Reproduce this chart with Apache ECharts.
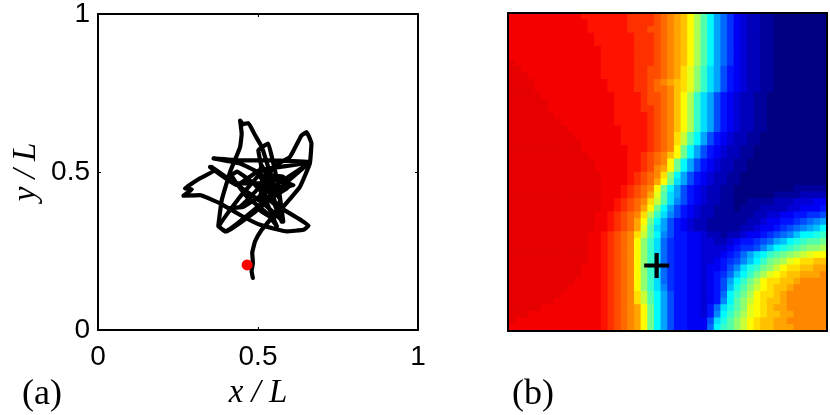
<!DOCTYPE html>
<html><head><meta charset="utf-8">
<style>html,body{margin:0;padding:0;background:#fff}#c{width:830px;height:415px}</style>
<script src="https://cdn.jsdelivr.net/npm/echarts@6/dist/echarts.min.js"></script>
</head><body><div id="c"></div>
<script>
var pathX = [.484,.480,.484,.482,.491,.510,.533,.553,.569,.538,.506,.512,.533,.559,.595,.548,.486,.402,.376,.387,.413,.444,.449,.444,.454,.470,.491,.512,.533,.548,.574,.559,.527,.496,.444,.361,.444,.548,.658,.611,.506,.434,.350,.366,.319,.272,.293,.267,.319,.381,.444,.506,.590,.642,.658,.637,.548,.486,.434,.418,.465,.527,.559,.506,.579,.527,.496,.444,.407,.454,.538,.611,.527,.506,.548,.600,.636,.652,.667,.662,.631,.579,.548,.506,.516,.537,.527,.506,.548,.516,.542,.512,.543,.533,.658,.537,.397,.379,.444,.512,.501,.532,.543,.564,.579,.516,.355,.433,.527,.543,.516,.537];
var pathY = [.165,.186,.212,.244,.281,.315,.343,.370,.412,.453,.501,.522,.474,.453,.451,.422,.370,.312,.328,.412,.501,.579,.621,.663,.651,.655,.616,.579,.511,.422,.343,.380,.453,.501,.527,.543,.537,.537,.532,.522,.506,.459,.516,.506,.480,.448,.445,.425,.427,.401,.364,.333,.312,.317,.330,.346,.401,.464,.501,.490,.422,.370,.328,.464,.485,.490,.443,.390,.385,.390,.443,.459,.480,.422,.516,.548,.616,.626,.590,.527,.453,.390,.354,.380,.453,.506,.464,.485,.464,.443,.433,.474,.490,.443,.527,.422,.312,.328,.422,.506,.569,.590,.548,.453,.343,.401,.516,.464,.464,.485,.459,.451];
var startPoint = [0.466, 0.206];
var panelLabels = ['(a)', '(b)'];
// heat levels 0..35 in base 36, one string per row from the top; an upper-case letter adds half a level
var heatRows = [
'vvvvvvvvvvvuuuuuuuttttsrqpomjgda8643221100000000',
'vvvvvvvvvvvvuuuuuuttttsrqpomjgda8643221100000000',
'vvvvvvvvvvvvuuuuuutttssrqpomjgda8643221100000000',
'vvvvvvvvvvvvvuuuuuutttsrqpomjgda8643221100000000',
'vvvvvvvvvvvvvuuuuuutttsrqpomjgda8643221100000000',
'vvvvvvvvvvvvvvuuuuutttsrqpomjgda8643221100000000',
'vvvvvvvvvvvvvvuuuuutttsrqpomjgda8643221100000000',
'Vvvvvvvvvvvvvvuuuuutttsrqpomjgda8643221100000000',
'VVvvvvvvvvvvvvuuuuuttssrqpnlifca7543221100000000',
'VVVvvvvvvvvvvvuuuuuttssrqpnlifca7543221100000000',
'VVVVvvvvvvvvvvvuuuuttsrqponlifca7543221100000000',
'VVVVvvvvvvvvvvvuuuuttsrrqonlifca7543221100000000',
'VVVVVvvvvvvvvvvvuuuutssrqomjfca75432211000000000',
'VVVVVVvvvvvvvvvvuuuutssrqomjfca75432211000000000',
'VVVVVVvvvvvvvvvvuuuuttsrqomjfca75432211000000000',
'VVVVVVVvvvvvvvvvuuuuutsrqomjfca75432211000000000',
'VVVVVVVVvvvvvvvvuuuuutsrqomjfca75432211000000000',
'VVVVVVVVVvvvvvvvvuuuutsrqomjfca75432211000000000',
'VVVVVVVVVVvvvvvvvuuuutsrqnkgda754322110000000000',
'VVVVVVVVVVVvvvvvvuuuutsrqnkgda754322110000000000',
'VVVVVVVVVVVvvvvvvvuuutsrqmhda7543221100000000000',
'VVVVVVVVVVVVvvvvvvuutsrqomhda7543221100000000000',
'VVVVVVVVVVVVVvvvvvuutsrqmhda75432211000000000000',
'VVVVVVVVVVVVVvvvvvuutsqpmhda75432211000000000000',
'VVVVVVVVVVVVVVvvvvutsrqnida754322110000000000000',
'VVVVVVVVVVVVVVvvvvutsrpmhca754322110000000000000',
'VVVVVVVVVVVVVVvvvutsrqmhda7543221100000000011111',
'VVVVVVVVVVVVVVvvvutsrplgca7543221100000011112222',
'VVVVVVVVVVVVVVvvutsrqnkgc97543221100111122233344',
'VVVVVVVVVVVVVVvvutsrpmhda75432211101112222334445',
'VVVVVVVVVVVVVvvutsrqnjfc975432211111122334455667',
'VVVVVVVVVVVVVvvutsrpmhda75432211111122344556789a',
'VVVVVVVVVVVVVvvutsrplgca754322111112234456789abd',
'VVVVVVVVVVVVvvutsrqnkgd97554432212234456789bddef',
'VVVVVVVVVVVVvvutsrqmifc86554433223455678abdefggh',
'VVVVVVVVVVVVvvutsrqmifc8655443333456679bdefghiij',
'VVVVVVVVVVVVvvutsrqmifc8655443334568acdfghijklmm',
'VVVVVVVVVVVVvvutsrqmifc8655443345679bdfhijlmnnoo',
'VVVVVVVVVVVvvvutsrqmifc865544344579cefhikmnnoopp',
'VVVVVVVVVVVvvvutsrqmifc86554434568bdfhjlmnoopppq',
'VVVVVVVVVVvvvvutsrqmifc8655443457adfhjmnnoopqqqq',
'VVVVVVVVVvvvvvutsrqmifc9655443457begikmnoopqqqqq',
'VVVVVVVVvvvvvvutsrqnkgda755443458dfhjmnnopqqqqqq',
'VVVVVVVvvvvvvvutsrqnkgda755443459dgikmnoopqqqqqq',
'VVVVVvvvvvvvvvutsrqpmhda75544358cegilmnoppqqqqqq',
'VVVvvvvvvvvvvvutsrqpmhda75544359dfhjlmnooppqqqqq',
'Vvvvvvvvvvvvvvutsrqpmhda7554447cegikmnooppqqqqqq',
'vvvvvvvvvvvvvvutsrqpmhda7554448dfgikmnoopppqqqqq'
];
var heatData = [], cols = [], rows = [];
for (var i = 0; i < 48; i++) { cols.push(i); rows.push(i); }
heatRows.forEach(function (r, j) {
  for (var i = 0; i < 48; i++) {
    var ch = r.charAt(Math.min(i, r.length - 1));
    var lv = parseInt(ch, 36) + (ch !== ch.toLowerCase() ? 0.5 : 0);
    heatData.push([i, j, lv]);
  }
});
var pathData = pathX.map(function (x, i) { return [x, pathY[i]]; });

var SANS = '"Liberation Sans"', SERIF = '"Liberation Serif"';
function valAxis(grid, pos, labelled, name) {
  return {
    type: 'value', gridIndex: grid, position: pos, min: 0, max: 1, interval: 0.5, z: 5,
    splitLine: { show: false },
    axisLine: { show: true, onZero: false, lineStyle: { color: '#000', width: 2 } },
    axisTick: { show: grid === 0, inside: true, length: 3, lineStyle: { color: '#000', width: 1 } },
    axisLabel: { show: labelled, color: '#000', fontFamily: SANS, fontSize: 28,
      margin: pos === 'bottom' ? 13 : 8,
      formatter: function (v) { return String(v); } },
    name: name || '', nameLocation: 'middle',
    nameTextStyle: { color: '#000', fontFamily: SERIF, fontStyle: 'italic', fontSize: 33 }
  };
}
function catAxis(grid, data, inverse) {
  return { type: 'category', gridIndex: grid, data: data, inverse: inverse, show: false };
}
var xA0 = valAxis(0, 'bottom', true, 'x / L'); xA0.nameGap = 47;
var yA0 = valAxis(0, 'left', true, 'y / L'); yA0.nameGap = 55; yA0.nameRotate = 90;
var heatBase = { type: 'heatmap', xAxisIndex: 2, yAxisIndex: 2, data: heatData, progressive: 0 };

var option = {
  animation: false,
  backgroundColor: '#fff',
  title: [
    { text: panelLabels[0], left: 17, top: 372, textStyle: { fontFamily: SERIF, fontWeight: 'normal', fontSize: 36, color: '#000' } },
    { text: panelLabels[1], left: 507, top: 372, textStyle: { fontFamily: SERIF, fontWeight: 'normal', fontSize: 36, color: '#000' } }
  ],
  grid: [
    { left: 98, top: 13, width: 320, height: 318 },
    { left: 508, top: 13, width: 319, height: 318 }
  ],
  xAxis: [xA0, valAxis(0, 'top', false), catAxis(1, cols, false), valAxis(1, 'bottom', false), valAxis(1, 'top', false)],
  yAxis: [yA0, valAxis(0, 'right', false), catAxis(1, rows, true), valAxis(1, 'left', false), valAxis(1, 'right', false)],
  visualMap: {
    show: false, seriesIndex: [2, 3], dimension: 2, min: 0, max: 35,
    inRange: { color: ['#000080', '#0000ff', '#0080ff', '#00ffff', '#80ff80', '#ffff00', '#ff8000', '#ff0000', '#800000'] }
  },
  series: [
    { type: 'line', xAxisIndex: 0, yAxisIndex: 0, data: pathData, showSymbol: false, smooth: 0.1,
      lineStyle: { color: '#000', width: 4.2, cap: 'round', join: 'round' }, silent: true },
    { type: 'scatter', xAxisIndex: 0, yAxisIndex: 0, data: [startPoint], symbol: 'circle', symbolSize: 11,
      itemStyle: { color: '#ff0000', opacity: 1 }, z: 4 },
    heatBase,
    heatBase,
    { type: 'scatter', xAxisIndex: 3, yAxisIndex: 3, data: [startPoint],
      symbol: 'path://M10,0H14V10H24V14H14V24H10V14H0V10H10Z', symbolSize: 25,
      itemStyle: { color: '#000', opacity: 1 }, z: 6 }
  ]
};
echarts.init(document.getElementById('c'), null, { renderer: 'canvas' }).setOption(option);
</script></body></html>
